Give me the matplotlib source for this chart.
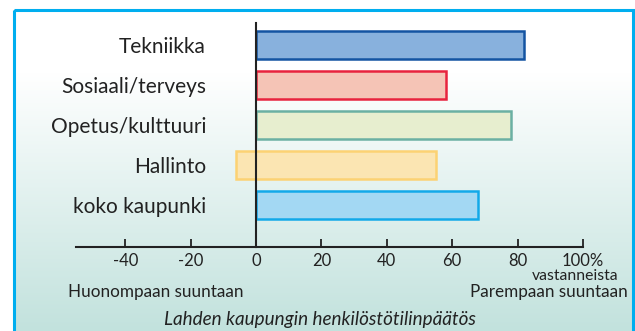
import matplotlib.pyplot as plt
import numpy as np
from matplotlib.patches import Rectangle

plt.rcParams['font.family'] = ['Lato', 'DejaVu Sans']

# Share of respondents (%), bottom-to-top order
categories = ['koko kaupunki', 'Hallinto', 'Opetus/kulttuuri', 'Sosiaali/terveys', 'Tekniikka']
starts = [0, -6, 0, 0, 0]
ends = [68, 55, 78, 58, 82]
fills = ['#a3d8f3', '#fbe5b2', '#e7eecf', '#f5c4b6', '#88b1dd']
edges = ['#12a9e9', '#fcd273', '#6bb0a3', '#e8233e', '#1454a2']

tick_vals = [-40, -20, 0, 20, 40, 60, 80, 100]
tick_labels = ['-40', '-20', '0', '20', '40', '60', '80', '100%']

W, H = 635, 331
fig = plt.figure(figsize=(W / 100, H / 100), dpi=100)

# background: white top fading to pale teal
bg = fig.add_axes([0, 0, 1, 1])
bg.set_axis_off()
rows = np.linspace(0, 1, H)
t = np.clip((rows - 0.22) / 0.78, 0, 1)[:, None]
top = np.array([1.0, 1.0, 1.0])
bot = np.array([194, 226, 221]) / 255
grad = top + (bot - top) * t
img = np.repeat(grad[:, None, :], W, axis=1)
bg.imshow(img, extent=[0, W, H, 0], aspect='auto')
bg.add_patch(Rectangle((0, 0), 14, H, color='white', zorder=2))
bg.add_patch(Rectangle((0, 0), W, 9, color='white', zorder=2))
bg.add_patch(Rectangle((14, 9.5), W - 16, H, fill=False, edgecolor='#00aeef',
                       linewidth=2.2, zorder=3))
bg.set_xlim(0, W)
bg.set_ylim(H, 0)

ax = fig.add_axes([76.2 / W, 1 - 247 / H, 506.8 / W, 224 / H])
ax.patch.set_visible(False)
y = np.arange(len(categories))
ax.barh(y, np.array(ends) - np.array(starts), left=starts, height=0.68,
        color=fills, edgecolor=edges, linewidth=1.8, zorder=2)

ax.set_xlim(-55, 100)
ax.set_ylim(-1.05, 4.55)
ax.spines[['top', 'right']].set_visible(False)
ax.spines['left'].set_position(('data', 0))
ax.spines['left'].set_zorder(3)
for s in ['left', 'bottom']:
    ax.spines[s].set_linewidth(1.5)
    ax.spines[s].set_color('#222222')

ax.set_xticks(tick_vals)
ax.set_xticklabels(tick_labels, fontsize=12, color='#222222')
ax.tick_params(axis='x', direction='in', length=6, width=1.3, color='#222222', pad=4)
ax.set_yticks(y)
ax.set_yticklabels(categories, fontsize=15, color='#222222')
ax.tick_params(axis='y', length=0, pad=36)

fig.text(618 / W, 1 - 276 / H, 'vastanneista', fontsize=11.3, color='#222222',
         ha='right', va='center')
fig.text(68 / W, 1 - 292 / H, 'Huonompaan suuntaan', fontsize=12.3, color='#222222',
         ha='left', va='center')
fig.text(628 / W, 1 - 292 / H, 'Parempaan suuntaan', fontsize=12.3, color='#222222',
         ha='right', va='center')
fig.text(320 / W, 1 - 320 / H, 'Lahden kaupungin henkilöstötilinpäätös', fontsize=13.6,
         style='italic', color='#222222', ha='center', va='center')

fig.savefig('out.png', dpi=100)
